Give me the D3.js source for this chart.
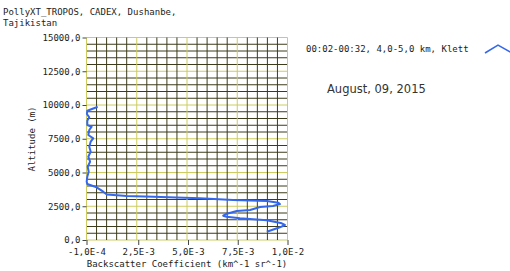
<!doctype html>
<html>
<head>
<meta charset="utf-8">
<script src="https://d3js.org/d3.v7.min.js"></script>
<style>
  body { margin: 0; background: #fff; }
  svg text { font-family: "DejaVu Sans Mono", monospace; font-size: 9px; fill: #222; }
</style>
</head>
<body>
<svg width="510" height="271"></svg>
<script>
// profile: altitude (m) and backscatter (km^-1 sr^-1)
var altitude = [9900, 9830, 9578, 9333, 9089, 8837, 8519, 8393, 8148, 7778, 7533, 7281, 6911, 6541, 6170, 5800, 5430, 5059, 4689, 4319, 4148,
                3904, 3578, 3370, 3259, 3207, 3089, 2963, 2889, 2763, 2667, 2519, 2444, 2222, 2148, 1926, 1800, 1726, 1607, 1459, 1237, 1111, 941, 615];
var backscatter = [0.00045, 0.00041, -0.00006, -0.00008, 0.00004, -0.00006, -0.00006, 0.00016, 0.00004, -0.00001, 0.00024, 0.00011, 0.00004, 0.00011, -0.00001, 0.00008, -0.00004, 0.00001, -0.00006, -0.00009, -0.00006,
                   0.00041, 0.00074, 0.00092, 0.00192, 0.00326, 0.0056, 0.00726, 0.00896, 0.00954, 0.00962, 0.00927, 0.00862, 0.00812, 0.00745, 0.00691, 0.00677, 0.00694, 0.00761, 0.00896, 0.00971, 0.00987, 0.00962, 0.00896];

var xTickValues = [-0.0001, 0.0025, 0.005, 0.0075, 0.01];
var xTickLabels = ["-1,0E-4", "2,5E-3", "5,0E-3", "7,5E-3", "1,0E-2"];
var yTickValues = [0, 2500, 5000, 7500, 10000, 12500, 15000];
var yTickLabels = ["0,0", "2500,0", "5000,0", "7500,0", "10000,0", "12500,0", "15000,0"];

var titleLines = ["PollyXT_TROPOS, CADEX, Dushanbe,", "Tajikistan"];
var legendLabel = "00:02-00:32, 4,0-5,0 km, Klett";
var dateLabel = "August, 09, 2015";

var svg = d3.select("svg");

var x = d3.scaleLinear().domain([-0.0001, 0.01]).range([86.5, 287.5]);
var y = d3.scaleLinear().domain([0, 15000]).range([240, 37.5]);

// grid: 20 columns, 30 rows, every 5th line yellow
var xGrid = d3.range(21).map(function(i) { return -0.0001 + i * (0.0101 / 20); });
var yGrid = d3.range(0, 15001, 500);

var grid = svg.append("g");
grid.selectAll(".hl").data(yGrid).enter().append("line")
    .attr("x1", x(-0.0001)).attr("x2", x(0.01))
    .attr("y1", function(d) { return y(d); }).attr("y2", function(d) { return y(d); })
    .attr("stroke", function(d) { return d % 2500 == 0 ? "#cccc60" : "#3c3c1c"; })
    .attr("stroke-width", 1);
grid.selectAll(".vl").data(xGrid).enter().append("line")
    .attr("y1", y(0)).attr("y2", y(15000))
    .attr("x1", function(d) { return x(d); }).attr("x2", function(d) { return x(d); })
    .attr("stroke", function(d, i) { return i % 5 == 0 ? "#cccc60" : "#3c3c1c"; })
    .attr("stroke-width", 1);

// axes
var yAxis = svg.append("g")
    .attr("transform", "translate(" + x(-0.0001) + ",0)")
    .call(d3.axisLeft(y).tickValues(yTickValues).tickSize(4).tickPadding(2)
        .tickFormat(function(d, i) { return yTickLabels[i]; }));
var xAxis = svg.append("g")
    .attr("transform", "translate(0," + y(0) + ")")
    .call(d3.axisBottom(x).tickValues(xTickValues).tickSize(5).tickPadding(4)
        .tickFormat(function(d, i) { return xTickLabels[i]; }));
svg.selectAll(".domain").remove();
svg.selectAll(".tick line").attr("stroke", "#444");
svg.selectAll(".tick text").attr("font-size", null).attr("font-family", null);

// profile line
var line = d3.line()
    .x(function(d, i) { return x(backscatter[i]); })
    .y(function(d) { return y(d); });
svg.append("path")
    .datum(altitude)
    .attr("d", line)
    .attr("fill", "none")
    .attr("stroke", "#3468ec")
    .attr("stroke-width", 2)
    .attr("stroke-linejoin", "round");

// labels
svg.append("text").attr("x", 3).attr("y", 15).text(titleLines[0]);
svg.append("text").attr("x", 3).attr("y", 26).text(titleLines[1]);

svg.append("text")
    .attr("transform", "translate(35,139) rotate(-90)")
    .attr("text-anchor", "middle")
    .text("Altitude (m)");

svg.append("text")
    .attr("x", 187).attr("y", 267)
    .attr("text-anchor", "middle")
    .text("Backscatter Coefficient (km^-1 sr^-1)");

// legend
svg.append("text").attr("x", 306).attr("y", 52).text(legendLabel);
svg.append("path")
    .attr("d", d3.line()([[485, 53], [498, 45], [512, 53]]))
    .attr("fill", "none")
    .attr("stroke", "#3468ec")
    .attr("stroke-width", 1.5);

svg.append("text")
    .attr("x", 327).attr("y", 93)
    .style("font-family", "'DejaVu Sans', sans-serif")
    .style("font-size", "11.5px")
    .style("fill", "#333")
    .text(dateLabel);
</script>
</body>
</html>
